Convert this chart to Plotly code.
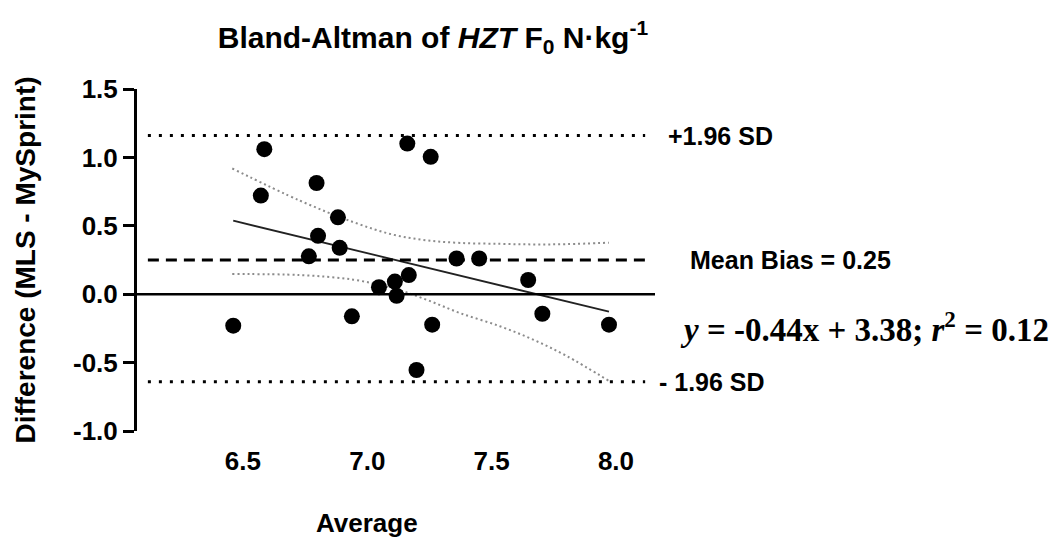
import plotly.graph_objects as go

# ---- data ----
average = [6.461, 6.586, 6.572, 6.796, 6.802, 6.765, 6.882, 6.889, 6.938, 7.047, 7.111,
           7.118, 7.167, 7.161, 7.255, 7.261, 7.198, 7.359, 7.450, 7.647, 7.704, 7.972]
difference = [-0.230, 1.060, 0.721, 0.813, 0.427, 0.277, 0.562, 0.339, -0.162, 0.051, 0.092,
              -0.012, 0.140, 1.101, 1.004, -0.223, -0.554, 0.261, 0.261, 0.104, -0.143, -0.223]

mean_bias = 0.25
upper_loa = 1.16
lower_loa = -0.64

slope = -0.44
intercept = 3.38
r_squared = 0.12

band_x = [6.457, 6.729, 6.944, 7.104, 7.239, 7.373, 7.533, 7.667, 7.802, 7.972]
band_upper = [0.919, 0.684, 0.527, 0.435, 0.394, 0.375, 0.368, 0.364, 0.366, 0.377]
band_lower = [0.147, 0.140, 0.106, 0.044, -0.041, -0.138, -0.234, -0.332, -0.452, -0.634]

x_ticks = [6.5, 7.0, 7.5, 8.0]
y_ticks = [-1.0, -0.5, 0.0, 0.5, 1.0, 1.5]

SANS = "Arial, 'Liberation Sans', sans-serif"
SERIF = "'Times New Roman', 'Liberation Serif', serif"

fig = go.Figure()

# regression confidence bands
band_style = dict(color="#8c8c8c", width=2, dash="2px,3px", shape="spline")
fig.add_trace(go.Scatter(x=band_x, y=band_upper, mode="lines", line=band_style, showlegend=False, hoverinfo="skip"))
fig.add_trace(go.Scatter(x=band_x, y=band_lower, mode="lines", line=band_style, showlegend=False, hoverinfo="skip"))

# regression line
x_fit = [min(average), max(average)]
y_fit = [slope * v + intercept for v in x_fit]
fig.add_trace(go.Scatter(x=x_fit, y=y_fit, mode="lines", line=dict(color="#222222", width=1.8),
                         showlegend=False, hoverinfo="skip"))

# points
fig.add_trace(go.Scatter(x=average, y=difference, mode="markers",
                         marker=dict(color="black", size=16), showlegend=False))

# horizontal reference lines
fig.add_shape(type="line", xref="paper", x0=0, x1=1, yref="y", y0=0, y1=0, line=dict(color="black", width=2.5))
fig.add_shape(type="line", xref="paper", x0=0.021, x1=0.981, yref="y", y0=mean_bias, y1=mean_bias,
              line=dict(color="black", width=3, dash="11px,7px"))
for v in (upper_loa, lower_loa):
    fig.add_shape(type="line", xref="paper", x0=0.021, x1=0.981, yref="y", y0=v, y1=v,
                  line=dict(color="black", width=3, dash="3px,8px"))

lab_font = dict(family=SANS, size=25, color="black", weight="bold")
fig.add_annotation(text="+1.96 SD", xref="paper", x=1.022, y=upper_loa, xanchor="left", yanchor="middle",
                   showarrow=False, font=lab_font)
fig.add_annotation(text="Mean Bias = %.2f" % mean_bias, xref="paper", x=1.064, y=mean_bias, xanchor="left",
                   yanchor="middle", showarrow=False, font=lab_font)
fig.add_annotation(text="- 1.96 SD", xref="paper", x=1.004, y=lower_loa, xanchor="left", yanchor="middle",
                   showarrow=False, font=lab_font)
fig.add_annotation(text="<i>y</i> = %.2fx + %.2f; <i>r</i><sup>2</sup> = %.2f" % (slope, intercept, r_squared),
                   xref="paper", x=1.044, y=-0.24, xanchor="left", yanchor="middle", showarrow=False,
                   font=dict(family=SERIF, size=33, color="black", weight="bold"))

# x-axis title, centred under the 7.0 tick as in the reference
fig.add_annotation(text="Average", xref="x", x=7.0, yref="paper", y=-0.27, xanchor="center", yanchor="middle",
                   showarrow=False, font=dict(family=SANS, size=26, color="black", weight="bold"))

fig.update_layout(
    width=1057, height=538,
    plot_bgcolor="white", paper_bgcolor="white",
    margin=dict(l=129, r=410, t=81, b=115),
    title=dict(text="Bland-Altman of <i>HZT</i> F<sub>0</sub> N·kg<sup>-1</sup>",
               x=0.402, xref="container", xanchor="center", y=0.946, yref="container", yanchor="middle",
               font=dict(family=SANS, size=30, color="black", weight="bold")),
    font=dict(family=SANS, color="black"),
)

fig.update_xaxes(range=[6.074, 8.157], tickvals=x_ticks, ticktext=["%.1f" % v for v in x_ticks],
                 showline=False, showgrid=False, zeroline=False, ticks="",
                 tickfont=dict(family=SANS, size=26, color="black", weight="bold"),
                 ticklabelstandoff=12)
fig.update_yaxes(range=[-1.0, 1.5], tickvals=y_ticks, ticktext=["%.1f" % v for v in y_ticks],
                 showline=True, linecolor="black", linewidth=3, ticks="outside", ticklen=11, tickwidth=3,
                 tickcolor="black", showgrid=False, zeroline=False,
                 tickfont=dict(family=SANS, size=26, color="black", weight="bold"),
                 title=dict(text="Difference (MLS - MySprint)", standoff=30,
                            font=dict(family=SANS, size=28, color="black", weight="bold")))

fig.write_html("out.html")
